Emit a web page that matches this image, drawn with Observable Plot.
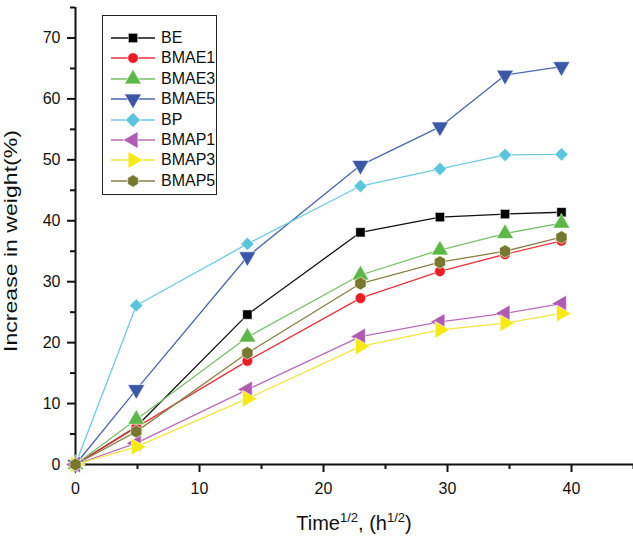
<!DOCTYPE html>
<html>
<head>
<meta charset="utf-8">
<script src="https://cdn.jsdelivr.net/npm/d3@7"></script>
<script src="https://cdn.jsdelivr.net/npm/@observablehq/plot@0.6"></script>
<style>
  html, body { margin: 0; padding: 0; background: #fff; }
  #wrap { position: relative; width: 633px; height: 539px; font-family: "Liberation Sans", Arial, sans-serif; }
  #legend { position: absolute; left: 102px; top: 15px; width: 115px; height: 180px; border: 1.5px solid #222; background: #fff; box-sizing: border-box; }
  .row { position: absolute; left: 0; height: 20px; display: flex; align-items: center; }
  .row span { font-size: 16px; color: #111; margin-left: 4px; }
</style>
</head>
<body>
<div id="wrap"><div id="legend"></div></div>
<script>
// ---- data ----
const times = [0, 4.9, 13.86, 22.98, 29.39, 34.64, 39.19];
const seriesNames = ["BE", "BMAE1", "BMAE3", "BMAE5", "BP", "BMAP1", "BMAP3", "BMAP5"];
const BE    = [0, 6.2, 24.6, 38.1, 40.6, 41.1, 41.4];
const BMAE1 = [0, 6.1, 17.0, 27.3, 31.7, 34.5, 36.7];
const BMAE3 = [0, 7.4, 20.9, 31.1, 35.2, 37.9, 39.6];
const BMAE5 = [0, 12.3, 34.1, 49.1, 55.4, 63.9, 65.3];
const BP    = [0, 26.1, 36.2, 45.7, 48.5, 50.8, 50.9];
const BMAP1 = [0, 3.5, 12.3, 21.0, 23.4, 24.8, 26.4];
const BMAP3 = [0, 2.9, 10.8, 19.4, 22.1, 23.2, 24.8];
const BMAP5 = [0, 5.4, 18.3, 29.7, 33.2, 35.0, 37.3];
const xTicks = [0, 10, 20, 30, 40];
const yTicks = [0, 10, 20, 30, 40, 50, 60, 70];

// ---- styles ----
const values = [BE, BMAE1, BMAE3, BMAE5, BP, BMAP1, BMAP3, BMAP5];
const styles = [
  {color: "#000000", line: "#111111", symbol: "square", rotate: 0, r: 5.3},
  {color: "#ec1c24", line: "#e8333a", symbol: "circle", rotate: 0, r: 5.3},
  {color: "#5db947", line: "#76c266", symbol: "triangle", rotate: 0, r: 6.3},
  {color: "#3a57a8", line: "#4a66b0", symbol: "triangle", rotate: 180, r: 6.3},
  {color: "#5bc5de", line: "#6ccbe0", symbol: "diamond2", rotate: 0, r: 6.0},
  {color: "#b05bb0", line: "#b86cb8", symbol: "triangle", rotate: -90, r: 6.3},
  {color: "#f7ea12", line: "#f3e63a", symbol: "triangle", rotate: 90, r: 6.3},
  {color: "#777a2e", line: "#8a8048", symbol: "hexagon", rotate: 0, r: 5.6}
];

const series = seriesNames.map((name, k) => ({
  name, style: styles[k],
  data: times.map((t, i) => ({series: name, t, v: values[k][i]}))
}));

const seriesMarks = series.flatMap(s => [
  Plot.line(s.data, {x: "t", y: "v", stroke: s.style.line, strokeWidth: 1.3}),
  Plot.dot(s.data, {x: "t", y: "v", symbol: s.style.symbol, rotate: s.style.rotate, r: s.style.r,
    fill: s.style.color, stroke: "#fff", strokeWidth: 0.6})
]);

const chart = Plot.plot({
  width: 633,
  height: 539,
  marginLeft: 75,
  marginRight: 0,
  marginTop: 7,
  marginBottom: 75,
  style: {fontFamily: "'Liberation Sans', Arial, sans-serif", fontSize: "16px", color: "#111", background: "#fff", overflow: "visible"},
  x: {domain: [0, 45]},
  y: {domain: [0, 75]},
  marks: [
    Plot.axisX(xTicks, {tickSize: 8, tickPadding: 10, strokeWidth: 2, label: null}),
    Plot.axisX([5, 15, 25, 35, 45], {tickSize: 5, strokeWidth: 2, fill: "none", label: null}),
    Plot.axisY(yTicks, {tickSize: 8, tickPadding: 7, strokeWidth: 2, label: null}),
    Plot.axisY([5, 15, 25, 35, 45, 55, 65, 75], {tickSize: 5, strokeWidth: 2, fill: "none", label: null}),
    Plot.ruleX([0], {strokeWidth: 2}),
    Plot.ruleY([0], {strokeWidth: 2}),
    ...seriesMarks
  ]
});

document.getElementById("wrap").prepend(chart);

// axis titles (with superscripts)
const svg = d3.select(chart);
const xt = svg.append("text")
  .attr("x", 354).attr("y", 530)
  .attr("text-anchor", "middle")
  .attr("font-size", 20).attr("fill", "#111");
xt.append("tspan").text("Time");
xt.append("tspan").attr("font-size", 13).attr("dy", -8).text("1/2");
xt.append("tspan").attr("dy", 8).text(", (h");
xt.append("tspan").attr("font-size", 13).attr("dy", -8).text("1/2");
xt.append("tspan").attr("dy", 8).text(")");

svg.append("text")
  .attr("transform", "translate(17,241) rotate(-90)")
  .attr("text-anchor", "middle")
  .attr("font-size", 18).attr("fill", "#111")
  .attr("textLength", 222).attr("lengthAdjust", "spacingAndGlyphs")
  .text("Increase in weight(%)");

// legend
const legend = d3.select("#legend");
const symTypes = {square: d3.symbolSquare, circle: d3.symbolCircle, triangle: d3.symbolTriangle,
  diamond2: d3.symbolSquare, hexagon: null};
series.forEach((s, k) => {
  const row = legend.append("div").attr("class", "row").style("top", (12 + k * 20.4) + "px").style("left", "8px");
  const g = row.append("svg").attr("width", 46).attr("height", 20);
  g.append("line").attr("x1", 0).attr("x2", 44).attr("y1", 10).attr("y2", 10)
    .attr("stroke", s.style.line).attr("stroke-width", 1.3);
  const area = Math.PI * s.style.r * s.style.r;
  let path;
  if (s.style.symbol === "hexagon") {
    const rr = s.style.r * 1.1;
    path = d3.range(6).map(i => { const a = Math.PI / 3 * i + Math.PI / 6; return [rr * Math.cos(a), rr * Math.sin(a)]; });
    path = "M" + path.map(p => p.join(",")).join("L") + "Z";
  } else {
    path = d3.symbol(symTypes[s.style.symbol], area)();
  }
  const rot = s.style.symbol === "diamond2" ? 45 : s.style.rotate;
  g.append("path").attr("d", path).attr("transform", `translate(22,10) rotate(${rot})`)
    .attr("fill", s.style.color).attr("stroke", "#fff").attr("stroke-width", 0.6);
  row.append("span").text(s.name);
});
</script>
</body>
</html>
